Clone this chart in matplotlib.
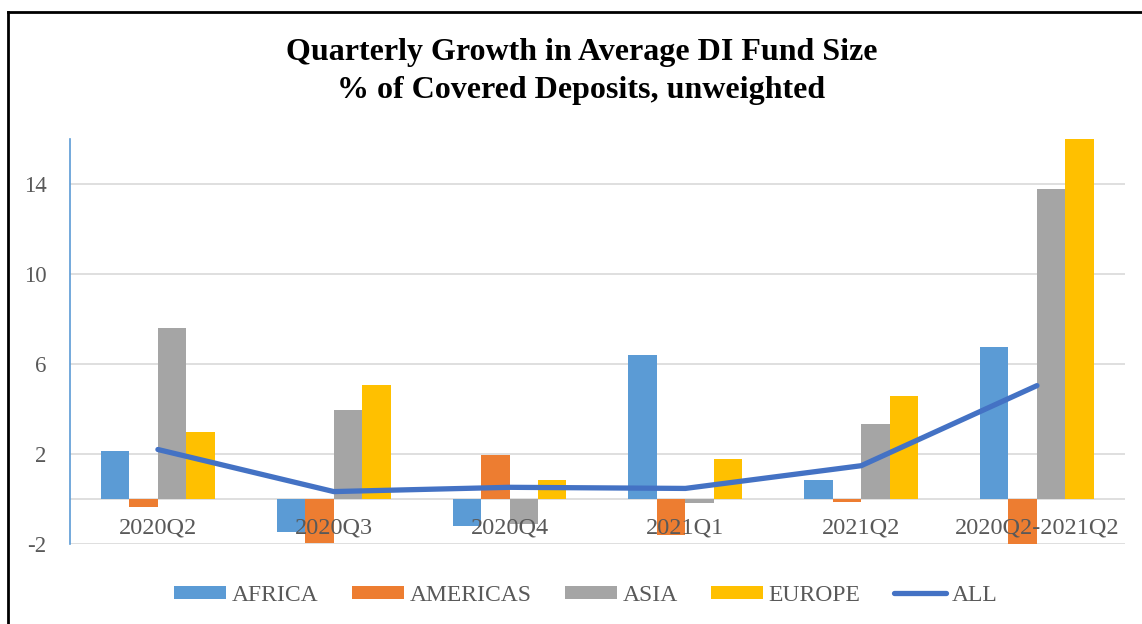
import matplotlib.pyplot as plt
import numpy as np
from matplotlib.lines import Line2D

plt.rcParams['font.family'] = ['Liberation Serif', 'DejaVu Serif']

categories = ['2020Q2', '2020Q3', '2020Q4', '2021Q1', '2021Q2', '2020Q2-2021Q2']
africa = [2.15, -1.45, -1.2, 6.4, 0.84, 6.74]
americas = [-0.34, -1.94, 1.96, -1.6, -0.12, -2.05]
asia = [7.6, 3.96, -1.1, -0.16, 3.32, 13.76]
europe = [3.0, 5.07, 0.84, 1.76, 4.58, 16.0]
all_regions = [2.2, 0.33, 0.52, 0.47, 1.48, 5.04]
yticks = [-2, 2, 6, 10, 14]

series = [('AFRICA', africa, '#5B9BD5'),
          ('AMERICAS', americas, '#ED7D31'),
          ('ASIA', asia, '#A5A5A5'),
          ('EUROPE', europe, '#FFC000')]

fig = plt.figure(figsize=(11.42, 6.24), dpi=100)
ax = fig.add_axes([0.0613, 0.1282, 0.9237, 0.649])

x = np.arange(len(categories))
w = 0.162
for i, (name, vals, col) in enumerate(series):
    ax.bar(x + (i - 1.5) * w, vals, w, color=col, label=name, zorder=2)
ax.plot(x, all_regions, color='#4472C4', lw=3.8, solid_capstyle='round', zorder=3)

ax.set_xlim(-0.5, len(categories) - 0.5)
ax.set_ylim(-2, 16)
ax.set_yticks(yticks)
ax.set_yticklabels([str(t) for t in yticks], fontsize=16.5, color='#595959')
ax.tick_params(axis='y', length=0, pad=17)
ax.set_xticks([])
for t in yticks:
    ax.axhline(t, color='#D9D9D9', lw=1.2, zorder=1)
ax.axhline(0, color='#D9D9D9', lw=1.2, zorder=1)
for s in ['top', 'right', 'bottom']:
    ax.spines[s].set_visible(False)
ax.spines['left'].set_color('#5B9BD5')
ax.spines['left'].set_linewidth(1.2)

for i, c in enumerate(categories):
    ax.text(i, -1.3, c, ha='center', va='center', fontsize=17.5, color='#595959', zorder=5)

fig.text(0.509, 0.886, 'Quarterly Growth in Average DI Fund Size\n% of Covered Deposits, unweighted',
         ha='center', va='center', fontsize=23, fontweight='bold', linespacing=1.4)

handles, labels = ax.get_legend_handles_labels()
handles.append(Line2D([0], [0], color='#4472C4', lw=3.8, solid_capstyle='round'))
labels.append('ALL')
fig.legend(handles, labels, loc='center', bbox_to_anchor=(0.513, 0.046), ncol=5, frameon=False,
           fontsize=17, labelcolor='#595959', handlelength=2.2, handleheight=0.5,
           handletextpad=0.25, columnspacing=1.4)

# outer frame lines (left and top)
fig.add_artist(Line2D([0.007, 0.007], [0, 0.98], transform=fig.transFigure, color='black', lw=2))
fig.add_artist(Line2D([0.007, 1.0], [0.98, 0.98], transform=fig.transFigure, color='black', lw=2))

fig.savefig('out.png', dpi=100)
